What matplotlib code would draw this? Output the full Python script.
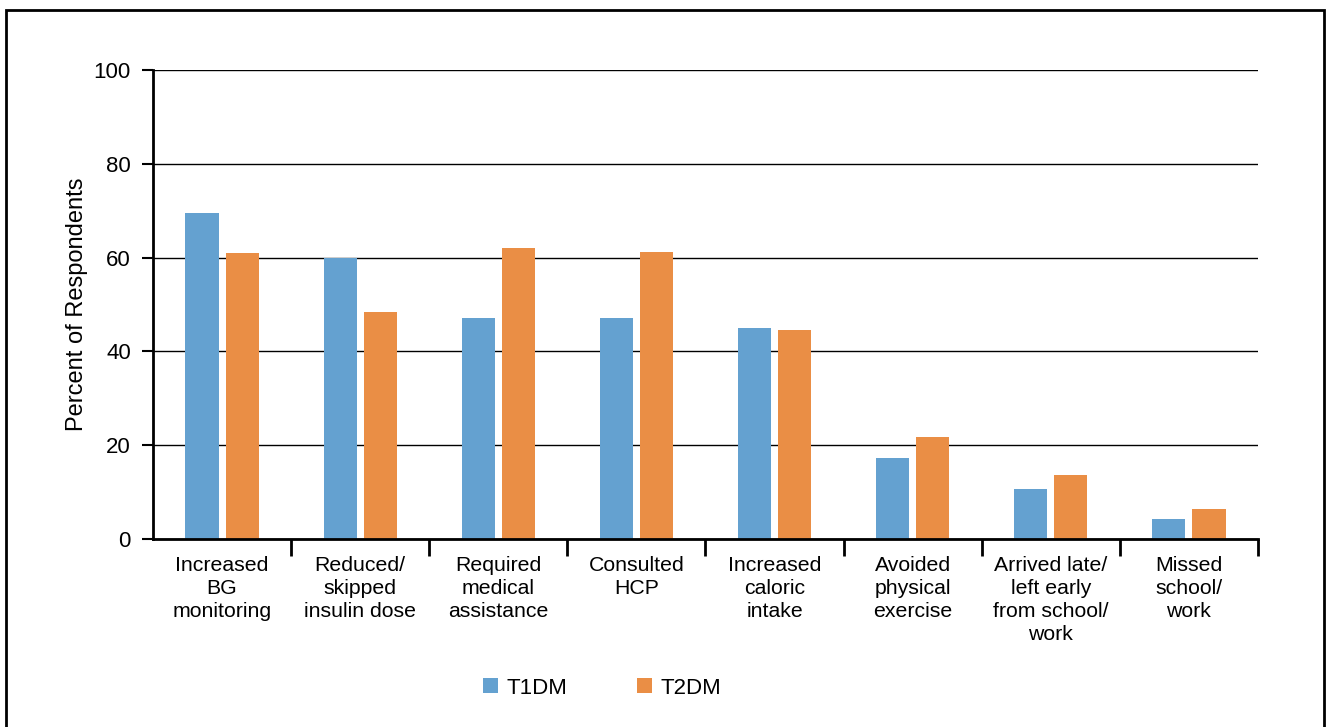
import numpy as np
import matplotlib
matplotlib.use("Agg")
import matplotlib.pyplot as plt
from matplotlib.patches import Rectangle

plt.rcParams['font.family'] = ['Liberation Sans', 'DejaVu Sans']

categories = [
    "Increased\nBG\nmonitoring",
    "Reduced/\nskipped\ninsulin dose",
    "Required\nmedical\nassistance",
    "Consulted\nHCP",
    "Increased\ncaloric\nintake",
    "Avoided\nphysical\nexercise",
    "Arrived late/\nleft early\nfrom school/\nwork",
    "Missed\nschool/\nwork",
]
t1dm = [69.5, 59.9, 47.2, 47.1, 45.0, 17.3, 10.7, 4.3]
t2dm = [61.0, 48.4, 62.1, 61.3, 44.6, 21.8, 13.7, 6.5]
series_names = ["T1DM", "T2DM"]
colors = ["#64A1D0", "#EA8E45"]

fig = plt.figure(figsize=(13.27, 7.27), dpi=100)
ax = fig.add_axes([0.1153, 0.2586, 0.8327, 0.6451])

x = np.arange(len(categories))
w = 0.24
b1 = ax.bar(x - 0.145, t1dm, w, color=colors[0], label=series_names[0], zorder=3)
b2 = ax.bar(x + 0.145, t2dm, w, color=colors[1], label=series_names[1], zorder=3)

ax.set_xlim(-0.5, len(categories) - 0.5)
ax.set_ylim(0, 100)
ax.set_yticks([0, 20, 40, 60, 80, 100])
ax.tick_params(axis='y', labelsize=16, length=8, width=1.5, direction='out', pad=8)
ax.yaxis.grid(True, color='black', linewidth=1.0, zorder=0)

ax.set_xticks(x)
ax.set_xticklabels(categories, fontsize=15.3, linespacing=1.28)
ax.tick_params(axis='x', which='major', length=0, pad=12)
ax.set_xticks(np.arange(0.5, len(categories)), minor=True)
ax.tick_params(axis='x', which='minor', length=12, width=2, direction='out')

for s in ['top', 'right']:
    ax.spines[s].set_visible(False)
ax.spines['left'].set_linewidth(2)
ax.spines['bottom'].set_linewidth(2)
ax.spines['bottom'].set_zorder(4)

ax.set_ylabel("Percent of Respondents", fontsize=17, labelpad=4)

fig.legend(handles=[b1, b2], loc='center', bbox_to_anchor=(0.4537, 0.0536),
           ncol=2, frameon=False, fontsize=16, handlelength=0.68, handleheight=0.68,
           handletextpad=0.4, columnspacing=3.1)

# outer frame around the figure (open at the bottom)
fig.add_artist(Rectangle((6 / 1327, -0.05), (1324 - 6) / 1327, 1.05 - 10 / 727,
                         transform=fig.transFigure, fill=False,
                         edgecolor='black', linewidth=2))

fig.savefig("out.png", dpi=100)
